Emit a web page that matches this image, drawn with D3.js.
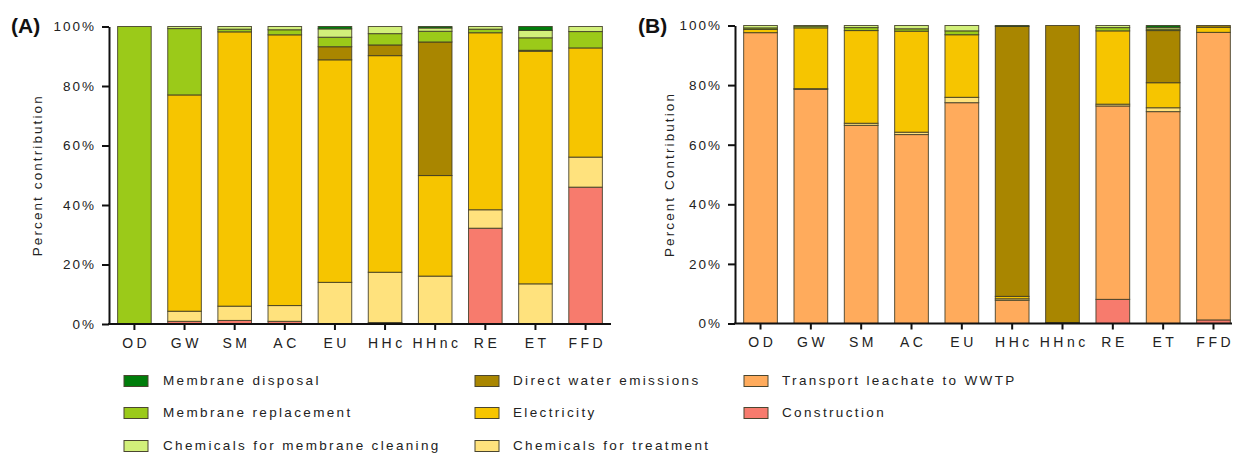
<!DOCTYPE html>
<html>
<head>
<meta charset="utf-8">
<script src="https://cdn.jsdelivr.net/npm/d3@7"></script>
<style>
  html, body { margin: 0; padding: 0; background: #fff; }
  svg { display: block; font-family: "Liberation Sans", Arial, sans-serif; }
</style>
</head>
<body>
<svg id="chart" width="1243" height="455"></svg>
<script>
// Categories (impact categories) shared by both panels
const categories = ["OD", "GW", "SM", "AC", "EU", "HHc", "HHnc", "RE", "ET", "FFD"];
const yTicks = [0, 20, 40, 60, 80, 100];

// Panel (A): percent contribution per process
const aConstruction      = [0, 0.9, 1.2, 0.9, 0, 0.5, 0, 32.2, 0, 46.0];
const aTransport         = [0, 0, 0, 0, 0, 0, 0, 0, 0, 0];
const aChemTreatment     = [0, 3.4, 4.8, 5.3, 14.0, 16.9, 16.1, 6.2, 13.5, 10.1];
const aElectricity       = [0, 72.7, 92.2, 91.0, 74.8, 72.8, 33.8, 59.5, 78.2, 36.7];
const aDirectWater       = [0, 0, 0, 0, 4.4, 3.6, 44.9, 0, 0.3, 0];
const aMembraneReplace   = [100, 22.3, 0.9, 1.7, 3.2, 3.8, 3.6, 1.2, 4.2, 5.5];
const aMembraneCleaning  = [0, 0.7, 0.9, 1.1, 2.8, 2.4, 1.1, 0.9, 2.5, 1.7];
const aMembraneDisposal  = [0, 0, 0, 0, 0.8, 0, 0.5, 0, 1.3, 0];

// Panel (B): percent contribution per process
const bConstruction      = [0, 0, 0, 0, 0, 0, 0, 8.1, 0, 1.2];
const bTransport         = [97.6, 78.6, 66.5, 63.4, 74.1, 7.8, 0.3, 64.9, 71.1, 96.5];
const bChemTreatment     = [0, 0.2, 0.7, 0.8, 1.8, 0.5, 0, 0.6, 1.3, 0];
const bElectricity       = [1.1, 20.4, 31.1, 33.9, 21.0, 0.8, 0, 24.6, 8.4, 1.7];
const bDirectWater       = [0, 0, 0, 0, 0, 90.6, 99.7, 0, 17.5, 0.6];
const bMembraneReplace   = [0.5, 0.6, 1.0, 0.8, 1.3, 0, 0, 1.1, 0.5, 0];
const bMembraneCleaning  = [0.8, 0.2, 0.7, 1.1, 1.8, 0, 0, 0.7, 0.6, 0];
const bMembraneDisposal  = [0, 0, 0, 0, 0, 0.3, 0, 0, 0.6, 0];

// Series, bottom of the stack first
const seriesKeys = ["construction", "transport", "chemTreatment", "electricity",
                    "directWater", "membraneReplace", "membraneCleaning", "membraneDisposal"];
const seriesNames = {
  membraneDisposal: "Membrane disposal",
  membraneReplace: "Membrane replacement",
  membraneCleaning: "Chemicals for membrane cleaning",
  directWater: "Direct water emissions",
  electricity: "Electricity",
  chemTreatment: "Chemicals for treatment",
  transport: "Transport leachate to WWTP",
  construction: "Construction"
};
const seriesColors = {
  membraneDisposal: "#007d0a",
  membraneReplace: "#9bca19",
  membraneCleaning: "#d2f07a",
  directWater: "#a98600",
  electricity: "#f6c500",
  chemTreatment: "#ffe27d",
  transport: "#ffab5c",
  construction: "#f77b6d"
};
const legendColumns = [
  ["membraneDisposal", "membraneReplace", "membraneCleaning"],
  ["directWater", "electricity", "chemTreatment"],
  ["transport", "construction"]
];

function buildRows(arrs) {
  return categories.map((c, i) => {
    const row = { category: c };
    seriesKeys.forEach(k => { row[k] = arrs[k][i]; });
    return row;
  });
}

const panelA = buildRows({
  construction: aConstruction, transport: aTransport, chemTreatment: aChemTreatment,
  electricity: aElectricity, directWater: aDirectWater, membraneReplace: aMembraneReplace,
  membraneCleaning: aMembraneCleaning, membraneDisposal: aMembraneDisposal
});
const panelB = buildRows({
  construction: bConstruction, transport: bTransport, chemTreatment: bChemTreatment,
  electricity: bElectricity, directWater: bDirectWater, membraneReplace: bMembraneReplace,
  membraneCleaning: bMembraneCleaning, membraneDisposal: bMembraneDisposal
});

const svg = d3.select("#chart");
const stack = d3.stack().keys(seriesKeys);

function drawPanel(opts) {
  const { rows, x0, x1, axisEnd, yTop, yBottom, tag, tagX, yTitle, yTitleX } = opts;
  const x = d3.scaleBand().domain(categories).range([x0, x1])
    .paddingInner(0.33).paddingOuter(0.172);
  const y = d3.scaleLinear().domain([0, 100]).range([yBottom, yTop]);

  const g = svg.append("g");
  const layers = stack(rows);

  g.selectAll("g.layer").data(layers).join("g")
    .attr("class", "layer")
    .attr("fill", d => seriesColors[d.key])
    .selectAll("rect")
    .data(d => d.filter(s => s[1] - s[0] > 0))
    .join("rect")
    .attr("x", d => x(d.data.category))
    .attr("width", x.bandwidth())
    .attr("y", d => y(d[1]))
    .attr("height", d => y(d[0]) - y(d[1]))
    .attr("stroke", "#3d3a24")
    .attr("stroke-opacity", 0.85)
    .attr("stroke-width", 1);

  // Y axis
  const yAxis = g.append("g")
    .attr("transform", `translate(${x0},0)`)
    .call(d3.axisLeft(y).tickValues(yTicks).tickFormat(d => d + "%")
      .tickSize(7).tickSizeOuter(0).tickPadding(4));
  yAxis.select(".domain").attr("stroke", "#111").attr("stroke-width", 2);
  yAxis.selectAll(".tick line").attr("stroke", "#111").attr("stroke-width", 2);
  yAxis.selectAll(".tick text")
    .attr("font-size", 13.5).attr("fill", "#222")
    .style("letter-spacing", "2px").attr("dx", -2)
    .attr("font-family", "Liberation Sans, Arial, sans-serif");

  // X axis
  const xAxis = g.append("g")
    .attr("transform", `translate(0,${yBottom})`)
    .call(d3.axisBottom(x).tickSize(6).tickSizeOuter(0).tickPadding(8));
  xAxis.select(".domain").remove();
  xAxis.selectAll(".tick line").attr("stroke", "#111").attr("stroke-width", 2);
  xAxis.selectAll(".tick text")
    .attr("font-size", 14).attr("fill", "#222")
    .style("letter-spacing", "3.5px").attr("dx", 1.75)
    .attr("font-family", "Liberation Sans, Arial, sans-serif");
  g.append("line")
    .attr("x1", x0 - 1).attr("x2", axisEnd)
    .attr("y1", yBottom).attr("y2", yBottom)
    .attr("stroke", "#111").attr("stroke-width", 2);

  // Panel tag
  g.append("text")
    .attr("x", tagX).attr("y", 33)
    .attr("font-size", 21).attr("font-weight", "bold").attr("fill", "#111")
    .text(tag);

  // Y axis title
  g.append("text")
    .attr("transform", `translate(${yTitleX},${(yTop + yBottom) / 2}) rotate(-90)`)
    .attr("text-anchor", "middle")
    .attr("dominant-baseline", "middle")
    .attr("font-size", 13.5).attr("fill", "#222")
    .style("letter-spacing", "2.1px")
    .text(yTitle);
}

drawPanel({ rows: panelA, x0: 109, x1: 611, axisEnd: 611, yTop: 26.5, yBottom: 324,
            tag: "(A)", tagX: 11, yTitle: "Percent contribution", yTitleX: 38 });
drawPanel({ rows: panelB, x0: 735, x1: 1239, axisEnd: 1232, yTop: 25.5, yBottom: 323.5,
            tag: "(B)", tagX: 638, yTitle: "Percent Contribution", yTitleX: 670 });

// Legend
const legendX = [124, 475, 744];
const legendTextX = [163, 513, 782];
const legendY = [381, 413, 446];
const legend = svg.append("g");
legendColumns.forEach((col, ci) => {
  col.forEach((key, ri) => {
    legend.append("rect")
      .attr("x", legendX[ci]).attr("y", legendY[ri] - 5.5)
      .attr("width", 24).attr("height", 11)
      .attr("fill", seriesColors[key])
      .attr("stroke", "#4a4630").attr("stroke-width", 1);
    legend.append("text")
      .attr("x", legendTextX[ci]).attr("y", legendY[ri])
      .attr("dominant-baseline", "middle")
      .attr("font-size", 13.5).attr("fill", "#222")
      .style("letter-spacing", "2.35px")
      .text(seriesNames[key]);
  });
});
</script>
</body>
</html>
